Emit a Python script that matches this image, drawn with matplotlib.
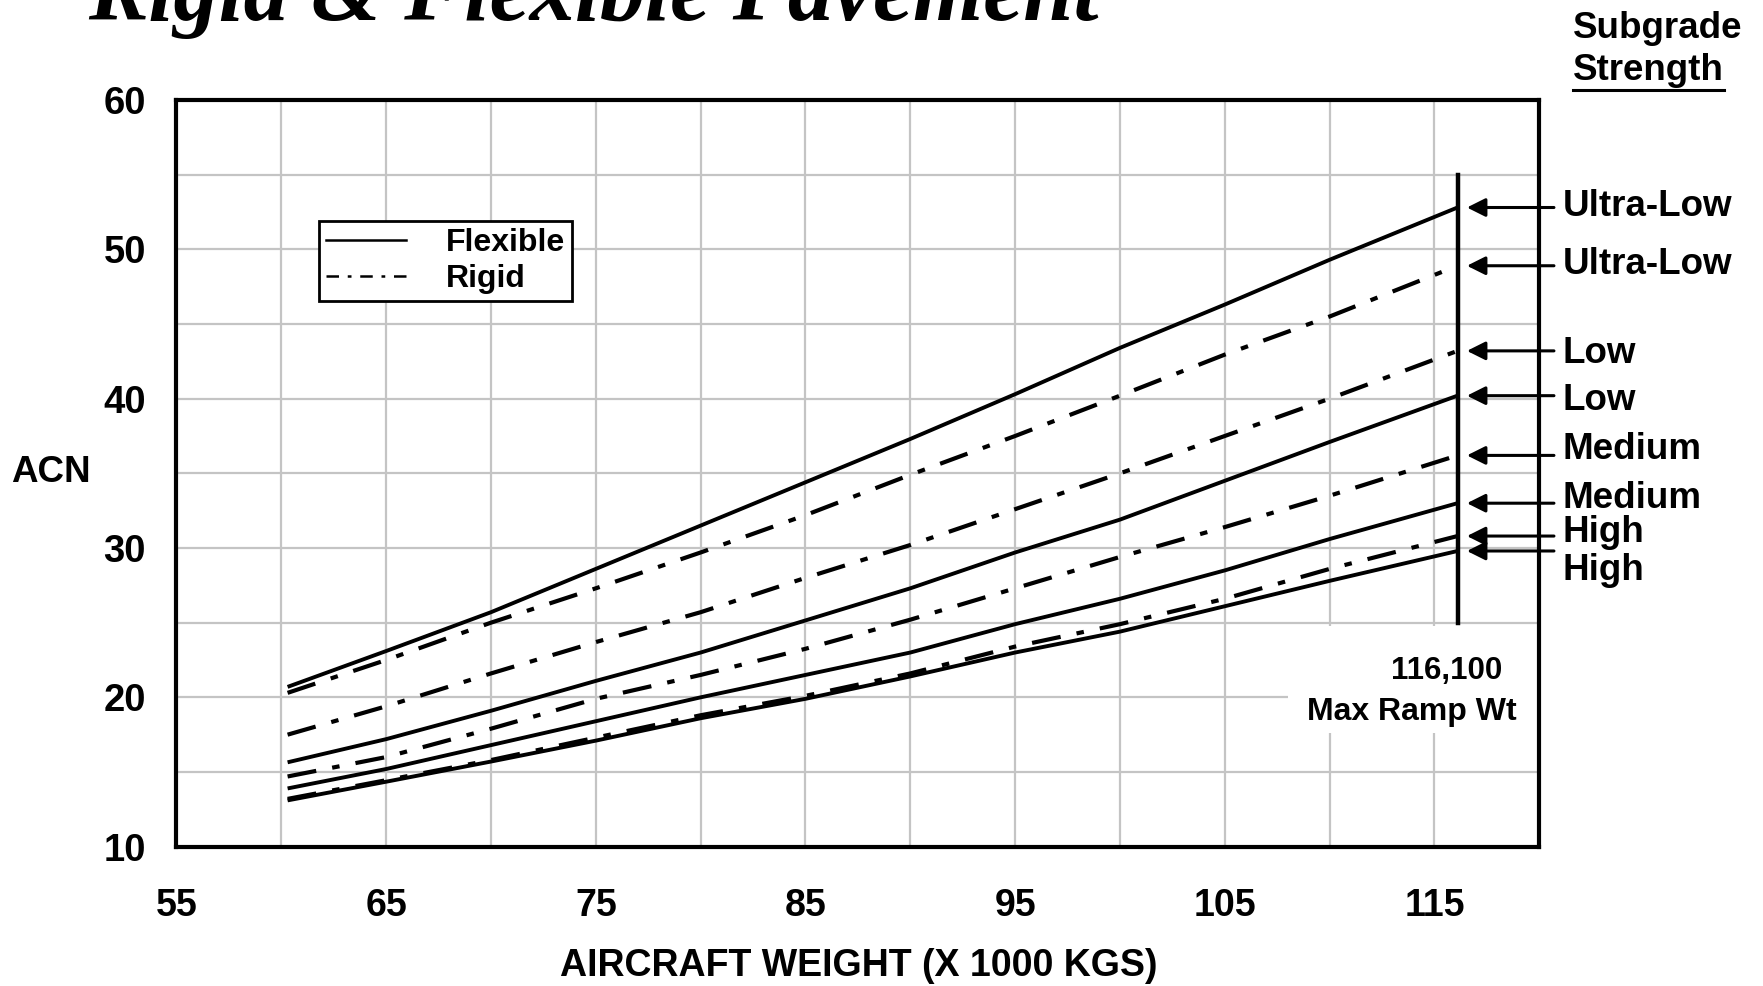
import matplotlib
matplotlib.use('Agg')
import matplotlib.pyplot as plt
from matplotlib.lines import Line2D
from matplotlib.patches import Rectangle

# ---------------- data ----------------
weights = [60.3, 65, 70, 75, 80, 85, 90, 95, 100, 105, 110, 116.1]
flex_ultra_low = [20.7, 23.1, 25.7, 28.6, 31.5, 34.4, 37.3, 40.3, 43.4, 46.3, 49.3, 52.8]
rigid_ultra_low = [20.3, 22.5, 25.0, 27.3, 29.7, 32.2, 34.9, 37.5, 40.2, 42.95, 45.5, 48.9]
rigid_low = [17.5, 19.4, 21.6, 23.7, 25.7, 28.0, 30.2, 32.6, 35.0, 37.5, 40.0, 43.2]
flex_low = [15.65, 17.2, 19.1, 21.1, 23.0, 25.15, 27.3, 29.7, 31.9, 34.5, 37.1, 40.2]
rigid_medium = [14.7, 16.0, 17.9, 19.9, 21.5, 23.25, 25.2, 27.3, 29.4, 31.4, 33.5, 36.2]
flex_medium = [13.9, 15.2, 16.8, 18.4, 20.0, 21.5, 23.0, 24.9, 26.6, 28.5, 30.6, 33.0]
rigid_high = [13.2, 14.45, 15.8, 17.3, 18.8, 20.1, 21.6, 23.4, 24.9, 26.6, 28.6, 30.8]
flex_high = [13.1, 14.35, 15.7, 17.1, 18.6, 19.9, 21.4, 23.0, 24.4, 26.1, 27.8, 29.8]

series_top_to_bottom = [
    ("Ultra-Low", "Flexible", flex_ultra_low),
    ("Ultra-Low", "Rigid", rigid_ultra_low),
    ("Low", "Rigid", rigid_low),
    ("Low", "Flexible", flex_low),
    ("Medium", "Rigid", rigid_medium),
    ("Medium", "Flexible", flex_medium),
    ("High", "Rigid", rigid_high),
    ("High", "Flexible", flex_high),
]

x_tick_labels = [55, 65, 75, 85, 95, 105, 115]
y_tick_labels = [10, 20, 30, 40, 50, 60]
max_ramp_wt = 116.1
max_ramp_text = "116,100"

# ---------------- style ----------------
plt.rcParams['font.family'] = ['Liberation Sans', 'DejaVu Sans']
plt.rcParams['font.weight'] = 'bold'
plt.rcParams['axes.labelweight'] = 'bold'

RIGID_DASH = (7.0, 3.9, 1.8, 3.9)

fig = plt.figure(figsize=(17.63, 9.86), dpi=100)
ax = fig.add_axes([0.1001, 0.1413, 0.7730, 0.7573])
ax.set_xlim(55, 120)
ax.set_ylim(10, 60)
ax.set_xticks(x_tick_labels)
ax.set_xticks([v + 5 for v in x_tick_labels], minor=True)
ax.set_yticks(y_tick_labels)
ax.set_yticks([v + 5 for v in y_tick_labels[:-1]], minor=True)
ax.set_xticklabels([str(v) for v in x_tick_labels])
ax.set_yticklabels([str(v) for v in y_tick_labels])
ax.grid(True, which='both', color='#c4c4c4', lw=1.6)
ax.set_axisbelow(True)
ax.tick_params(which='both', length=0)
ax.tick_params(axis='x', pad=30, labelsize=27)
ax.tick_params(axis='y', pad=22, labelsize=27.5)
for s in ax.spines.values():
    s.set_linewidth(3)

for name, kind, vals in series_top_to_bottom:
    if kind == "Flexible":
        ax.plot(weights, vals, color='k', lw=2.8, solid_capstyle='butt', zorder=3)
    else:
        ax.plot(weights, vals, color='k', lw=3.0, dashes=RIGID_DASH, zorder=3)

# max ramp weight line
ax.plot([max_ramp_wt, max_ramp_wt], [25, 55], color='k', lw=3.2, zorder=4)

# white box behind max ramp text
ax.add_patch(Rectangle((108.0, 17.6), 11.9, 7.2, facecolor='white',
                       edgecolor='none', zorder=1))
ax.text(115.6, 21.75, max_ramp_text, ha='center', va='center', fontsize=22.5, zorder=5)
ax.text(113.9, 19.05, "Max Ramp Wt", ha='center', va='center', fontsize=23, zorder=5)

# arrows and labels on the right
label_offsets_pt = [0.8, 0.8, -1.6, -3.2, 4.1, 3.3, 2.5, -13.7]
for (name, kind, vals), off in zip(series_top_to_bottom, label_offsets_pt):
    yv = vals[-1]
    ax.annotate('', xy=(116.55, yv), xytext=(120.7, yv),
                arrowprops=dict(arrowstyle='-|>', lw=2.2, color='k',
                                mutation_scale=28, shrinkA=0, shrinkB=0),
                annotation_clip=False, zorder=5)
    ax.annotate(name, xy=(121.1, yv), xytext=(0, off), textcoords='offset points',
                ha='left', va='center', fontsize=26.5, annotation_clip=False)

# legend
h_flex = Line2D([], [], color='k', lw=1.8)
h_rigid = Line2D([], [], color='k', lw=1.8, dashes=(5, 3.5, 1.5, 3.5))
leg = ax.legend([h_flex, h_rigid], ["Flexible", "Rigid"], loc='upper left',
                bbox_to_anchor=(0.1046, 0.838), borderaxespad=0, fontsize=23,
                handlelength=2.5, handletextpad=1.25, borderpad=0.22,
                labelspacing=0.2, frameon=True, fancybox=False,
                edgecolor='k', framealpha=1)
leg.get_frame().set_linewidth(2)

# axis labels
ax.set_xlabel("AIRCRAFT WEIGHT (X 1000 KGS)", fontsize=27, fontweight='bold')
ax.xaxis.set_label_coords(0.5008, -0.1598)
ax.xaxis.label.set_va('center')
ax.set_ylabel("ACN", fontsize=26.5, rotation=0, fontweight='bold')
ax.yaxis.set_label_coords(-0.0921, 0.5005)
ax.yaxis.label.set_va('center')
ax.yaxis.label.set_ha('center')

# title (partially cut off at top, as in the original)
fig.text(88 / 1763, 1 - 20 / 986, "Rigid & Flexible Pavement",
         family=['Liberation Serif', 'DejaVu Serif'], style='italic',
         weight='bold', fontsize=65, va='baseline', ha='left')

# header at top right
fig.text(1573 / 1763, 1 - 28.5 / 986, "Subgrade", fontsize=26.5, va='center', ha='left')
t_str = fig.text(1573 / 1763, 1 - 70.5 / 986, "Strength", fontsize=26.5, va='center', ha='left')

fig.canvas.draw()
bb = t_str.get_window_extent(fig.canvas.get_renderer())
uy = 1 - 90 / 986
fig.add_artist(Line2D([bb.x0 / fig.bbox.width, bb.x1 / fig.bbox.width], [uy, uy],
                      transform=fig.transFigure, color='k', lw=2.2))

fig.savefig("out.png", dpi=100)
